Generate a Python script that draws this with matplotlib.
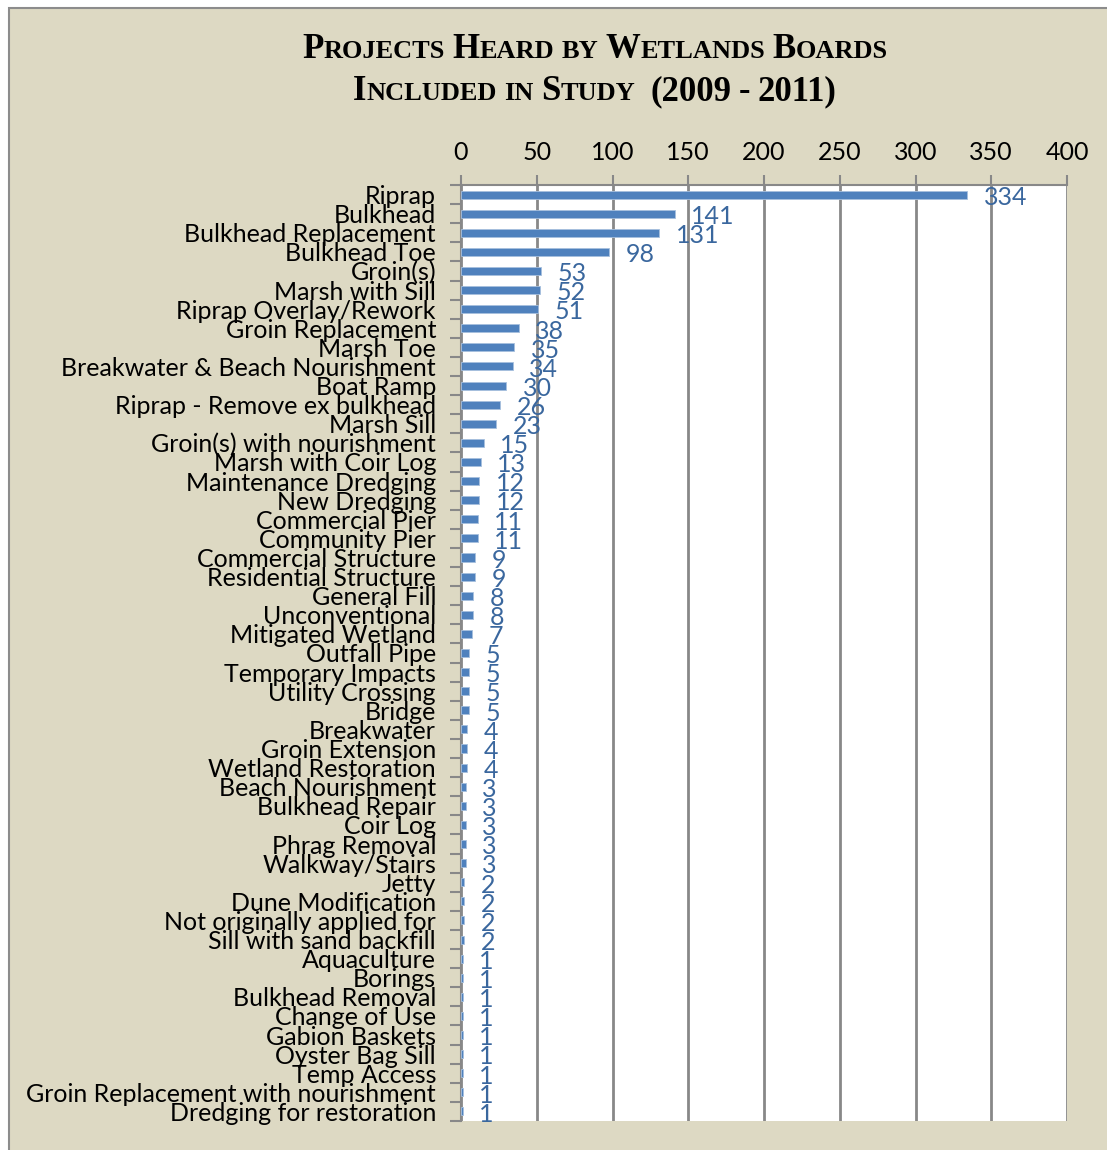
"""Projects heard by wetlands boards, horizontal bar chart."""

from matplotlib import pyplot as plt
from matplotlib.patches import Rectangle
import numpy as np

categories = [
    "Riprap", "Bulkhead", "Bulkhead Replacement", "Bulkhead Toe", "Groin(s)",
    "Marsh with Sill", "Riprap Overlay/Rework", "Groin Replacement", "Marsh Toe",
    "Breakwater & Beach Nourishment", "Boat Ramp", "Riprap - Remove ex bulkhead",
    "Marsh Sill", "Groin(s) with nourishment", "Marsh with Coir Log",
    "Maintenance Dredging", "New Dredging", "Commercial Pier", "Community Pier",
    "Commercial Structure", "Residential Structure", "General Fill",
    "Unconventional", "Mitigated Wetland", "Outfall Pipe", "Temporary Impacts",
    "Utility Crossing", "Bridge", "Breakwater", "Groin Extension",
    "Wetland Restoration", "Beach Nourishment", "Bulkhead Repair", "Coir Log",
    "Phrag Removal", "Walkway/Stairs", "Jetty", "Dune Modification",
    "Not originally applied for", "Sill with sand backfill", "Aquaculture",
    "Borings", "Bulkhead Removal", "Change of Use", "Gabion Baskets",
    "Oyster Bag Sill", "Temp Access", "Groin Replacement with nourishment",
    "Dredging for restoration",
]
counts = [
    334, 141, 131, 98, 53, 52, 51, 38, 35, 34, 30, 26, 23, 15, 13, 12, 12, 11, 11,
    9, 9, 8, 8, 7, 5, 5, 5, 5, 4, 4, 4, 3, 3, 3, 3, 3, 2, 2, 2, 2,
    1, 1, 1, 1, 1, 1, 1, 1, 1,
]
x_ticks = [0, 50, 100, 150, 200, 250, 300, 350, 400]

BG = "#DDD9C3"
BAR = "#4F81BD"
LABEL = "#3A679E"
GRID = "#888888"
W, H = 1107, 1150

fig = plt.figure(figsize=(W / 100, H / 100), dpi=100)
fig.patch.set_facecolor("white")
fig.patches.append(Rectangle((9 / W, -0.1), 1.2, 1 - 8 / H + 0.1,
                             transform=fig.transFigure, facecolor=BG,
                             edgecolor="#8C8C8C", linewidth=1.5, zorder=-5))

ax = fig.add_axes([461 / W, 1 - 1121 / H, (1067 - 461) / W, (1121 - 185) / H])
ax.set_facecolor("white")

n = len(categories)
y = np.arange(n)
ax.barh(y, counts, height=0.42, color=BAR, edgecolor="#A7C0DE", linewidth=0.6,
        zorder=3)
for yi, v in zip(y, counts):
    ax.annotate(str(v), (v, yi), xytext=(12, -2), textcoords="offset points",
                va="center", ha="left", color=LABEL, fontsize=18,
                family="Lato", zorder=4)

ax.set_xlim(0, 400)
ax.set_ylim(n - 0.5, -0.5)
ax.set_xticks(x_ticks)
ax.xaxis.tick_top()
ax.tick_params(axis="x", length=7, width=1.5, color=GRID, pad=8,
               labelsize=18, labelfontfamily="Lato")
ax.grid(axis="x", color=GRID, linewidth=2, zorder=1)

ax.set_yticks(y)
ax.set_yticklabels(categories, family="Lato", fontsize=18)
ax.set_yticks(np.arange(n + 1) - 0.5, minor=True)
ax.tick_params(axis="y", which="major", length=0, pad=18)
ax.tick_params(axis="y", which="minor", length=8, width=1.5, color=GRID)

for side in ["top", "left"]:
    ax.spines[side].set_color(GRID)
    ax.spines[side].set_linewidth(1.5)
ax.spines["right"].set_visible(False)
ax.spines["bottom"].set_visible(False)

# title drawn in simulated small caps
renderer = fig.canvas.get_renderer()


def small_caps(line, y_px, big=25, small=19):
    pieces = []
    for word in line.split(" "):
        if word and word[0].isalpha() and word.lower() not in ("by", "in"):
            pieces.append((word[0], big))
            if len(word) > 1:
                pieces.append((word[1:].upper(), small))
        elif word.lower() in ("by", "in"):
            pieces.append((word.upper(), small))
        else:
            pieces.append((word, big))
        pieces.append((" ", big))
    pieces = pieces[:-1]
    texts = []
    total = 0
    for s, size in pieces:
        t = fig.text(0, 1 - y_px / H, s, fontsize=size, fontweight="bold",
                     family="Liberation Serif", va="baseline", ha="left")
        w = t.get_window_extent(renderer).width
        if s == " ":
            w = size * 0.3
        texts.append((t, w))
        total += w
    x = 595 - total / 2
    for t, w in texts:
        t.set_x(x / W)
        x += w


small_caps("Projects Heard by Wetlands Boards", 58)
small_caps("Included in Study  (2009 - 2011)", 100)

fig.savefig("out.png", dpi=100)
